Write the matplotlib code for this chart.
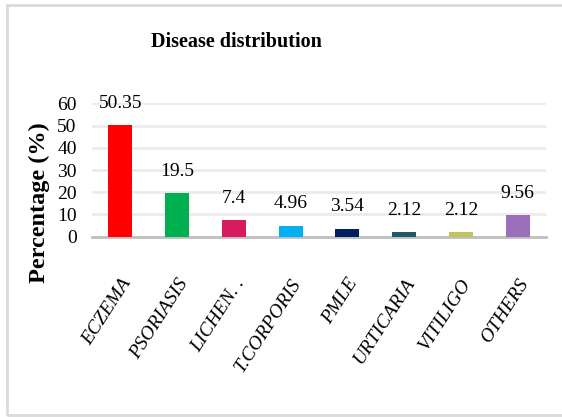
import matplotlib
matplotlib.use("Agg")
import matplotlib.pyplot as plt
from matplotlib.patches import Rectangle

# data
categories = ["ECZEMA", "PSORIASIS", "LICHEN. .", "T.CORPORIS", "PMLE",
              "URTICARIA", "VITILIGO", "OTHERS"]
percentages = [50.35, 19.5, 7.4, 4.96, 3.54, 2.12, 2.12, 9.56]
value_labels = ["50.35", "19.5", "7.4", "4.96", "3.54", "2.12", "2.12", "9.56"]
bar_colors = ["#FF0000", "#00B050", "#D81B5E", "#00B0F0", "#002060",
              "#215968", "#C3C35C", "#9B6FBB"]
y_ticks = [0, 10, 20, 30, 40, 50, 60]

plt.rcParams["font.family"] = ["Liberation Serif", "DejaVu Serif"]

fig = plt.figure(figsize=(5.62, 4.17), dpi=100)
# light grey frame around the whole chart
fig.patches.append(Rectangle((0.013, 0.005), 0.99, 0.982, transform=fig.transFigure,
                             fill=False, edgecolor="#D9D9D9", linewidth=2))

ax = fig.add_axes([0.1637, 0.4324, 0.8078, 0.3194])
x = range(len(categories))
ax.bar(x, percentages, width=0.42, color=bar_colors, zorder=3)

for xi, val, lab in zip(x, percentages, value_labels):
    ax.annotate(lab, (xi, val), xytext=(0, 12.5), textcoords="offset points",
                ha="center", va="baseline", fontsize=14)

ax.set_xlim(-0.5, len(categories) - 0.5)
ax.set_ylim(0, 60)
ax.set_yticks(y_ticks)
ax.set_yticklabels([str(t) for t in y_ticks], fontsize=14)
ax.set_xticks(list(x))
ax.set_xticklabels(categories, fontsize=14, style="italic", rotation=57,
                   ha="right", va="top", rotation_mode="anchor")
ax.tick_params(axis="y", length=0, pad=11)
ax.tick_params(axis="x", length=0, pad=28)

ax.grid(axis="y", color="#EBEBEB", linewidth=2, zorder=0)
for side in ["top", "right", "left"]:
    ax.spines[side].set_visible(False)
ax.spines["bottom"].set_color("#BFBFBF")
ax.spines["bottom"].set_linewidth(2)

fig.text(0.42, 0.9, "Disease distribution", ha="center", va="center",
         fontsize=14.5, fontweight="bold")
fig.text(0.071, 0.515, "Percentage (%)", ha="center", va="center",
         rotation=90, fontsize=17.5, fontweight="bold")

fig.savefig("out.png", dpi=100)
